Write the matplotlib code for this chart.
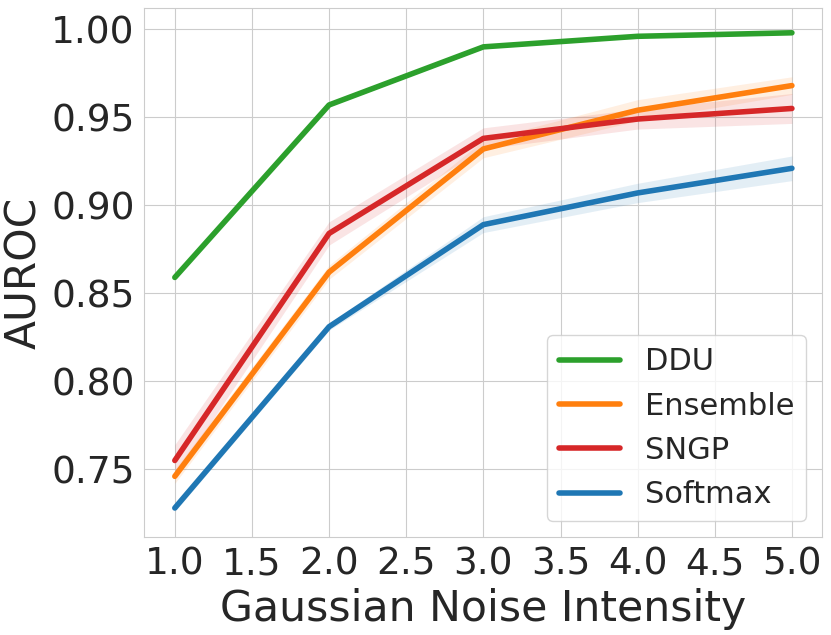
import matplotlib
matplotlib.use("Agg")
import matplotlib.pyplot as plt
import numpy as np
import seaborn as sns

sns.set_style("whitegrid")
plt.rcParams['font.family'] = ['DejaVu Sans']

noise = [1.0, 2.0, 3.0, 4.0, 5.0]

ddu_mean = [0.859, 0.957, 0.990, 0.996, 0.998]
ddu_std = [0.001, 0.001, 0.001, 0.001, 0.001]
ensemble_mean = [0.746, 0.862, 0.932, 0.954, 0.968]
ensemble_std = [0.004, 0.004, 0.005, 0.006, 0.005]
sngp_mean = [0.755, 0.884, 0.938, 0.949, 0.955]
sngp_std = [0.009, 0.0066, 0.006, 0.0057, 0.0085]
softmax_mean = [0.728, 0.831, 0.889, 0.907, 0.921]
softmax_std = [0.002, 0.002, 0.0045, 0.0055, 0.007]

series = [
    ("DDU", ddu_mean, ddu_std, "#2ca02c"),
    ("Ensemble", ensemble_mean, ensemble_std, "#ff7f0e"),
    ("SNGP", sngp_mean, sngp_std, "#d62728"),
    ("Softmax", softmax_mean, softmax_std, "#1f77b4"),
]

fig = plt.figure(figsize=(8.31, 6.35), dpi=100)
ax = fig.add_axes([0.1736, 0.1548, 0.8152, 0.8321])

x = np.array(noise)
for name, mean, std, color in series:
    m = np.array(mean)
    s = np.array(std)
    ax.plot(x, m, color=color, linewidth=4, label=name, solid_capstyle='round')
    ax.fill_between(x, m - s, m + s, color=color, alpha=0.12, linewidth=0)

ax.set_xlim(0.802, 5.193)
ax.set_ylim(0.7117, 1.0119)
xt = np.arange(1.0, 5.01, 0.5)
ax.set_xticks(xt)
ax.set_xticklabels([f"{t:.1f}" for t in xt])
yt = [0.75, 0.80, 0.85, 0.90, 0.95, 1.00]
ax.set_yticks(yt)
ax.set_yticklabels([f"{t:.2f}" for t in yt])
ax.tick_params(axis='both', labelsize=27, colors='#262626')
ax.set_xlabel("Gaussian Noise Intensity", fontsize=30.7, color='#262626')
ax.set_ylabel("AUROC", fontsize=30.5, color='#262626')

leg = ax.legend(loc='lower right', fontsize=22, handlelength=2.0, borderpad=0.4,
                labelspacing=0.5, frameon=True)
for line in leg.get_lines():
    line.set_linewidth(4)

fig.savefig("out.png", dpi=100)
